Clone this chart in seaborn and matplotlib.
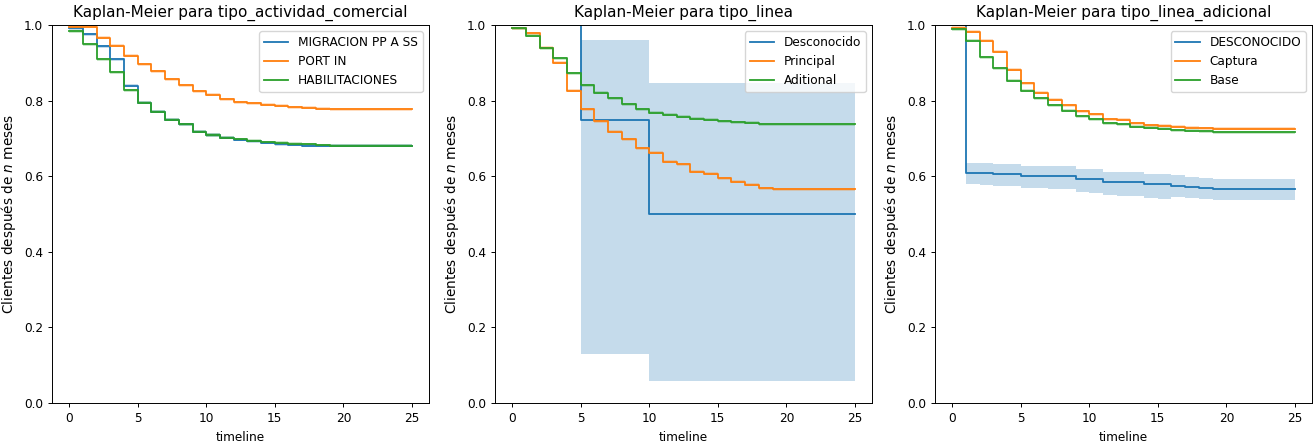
import numpy as np
import pandas as pd
import matplotlib
matplotlib.use("Agg")
import matplotlib.pyplot as plt
import seaborn as sns

# Timeline (meses)
timeline = list(range(26))

# Panel 1: tipo_actividad_comercial
migracion = [0.991, 0.976, 0.944, 0.909, 0.839, 0.794, 0.771, 0.750, 0.737, 0.718, 0.709, 0.702, 0.697,
             0.692, 0.688, 0.685, 0.683, 0.681, 0.680, 0.680, 0.680, 0.680, 0.680, 0.680, 0.680, 0.680]
port_in = [0.996, 0.995, 0.966, 0.945, 0.919, 0.896, 0.877, 0.857, 0.841, 0.825, 0.815, 0.804, 0.796,
           0.793, 0.789, 0.786, 0.783, 0.781, 0.779, 0.777, 0.777, 0.777, 0.777, 0.777, 0.777, 0.777]
habilitaciones = [0.984, 0.949, 0.910, 0.875, 0.828, 0.794, 0.771, 0.750, 0.737, 0.718, 0.709, 0.702, 0.698,
                  0.694, 0.690, 0.688, 0.686, 0.684, 0.682, 0.680, 0.680, 0.680, 0.680, 0.680, 0.680, 0.680]

# Panel 2: tipo_linea
desconocido = [1.0, 1.0, 1.0, 1.0, 1.0, 0.75, 0.75, 0.75, 0.75, 0.75, 0.5, 0.5, 0.5,
               0.5, 0.5, 0.5, 0.5, 0.5, 0.5, 0.5, 0.5, 0.5, 0.5, 0.5, 0.5, 0.5]
desconocido_lo = [1.0, 1.0, 1.0, 1.0, 1.0, 0.130, 0.130, 0.130, 0.130, 0.130, 0.059, 0.059, 0.059,
                  0.059, 0.059, 0.059, 0.059, 0.059, 0.059, 0.059, 0.059, 0.059, 0.059, 0.059, 0.059, 0.059]
desconocido_hi = [1.0, 1.0, 1.0, 1.0, 1.0, 0.960, 0.960, 0.960, 0.960, 0.960, 0.846, 0.846, 0.846,
                  0.846, 0.846, 0.846, 0.846, 0.846, 0.846, 0.846, 0.846, 0.846, 0.846, 0.846, 0.846, 0.846]
principal = [0.991, 0.978, 0.940, 0.900, 0.826, 0.777, 0.746, 0.718, 0.698, 0.674, 0.662, 0.638, 0.632,
             0.612, 0.606, 0.595, 0.585, 0.577, 0.568, 0.565, 0.565, 0.565, 0.565, 0.565, 0.565, 0.565]
aditional = [0.991, 0.971, 0.938, 0.912, 0.872, 0.841, 0.821, 0.806, 0.790, 0.777, 0.768, 0.762, 0.757,
             0.752, 0.749, 0.746, 0.743, 0.741, 0.737, 0.737, 0.737, 0.737, 0.737, 0.737, 0.737, 0.737]

# Panel 3: tipo_linea_adicional
desc_adic = [1.0, 0.609, 0.609, 0.605, 0.605, 0.601, 0.601, 0.601, 0.601, 0.592, 0.592, 0.585, 0.585,
             0.585, 0.580, 0.580, 0.575, 0.572, 0.569, 0.566, 0.566, 0.566, 0.566, 0.566, 0.566, 0.566]
desc_adic_lo = [1.0, 0.579, 0.578, 0.574, 0.573, 0.569, 0.568, 0.567, 0.566, 0.557, 0.556, 0.549, 0.548,
                0.547, 0.542, 0.541, 0.545, 0.542, 0.539, 0.537, 0.537, 0.537, 0.537, 0.537, 0.537, 0.537]
desc_adic_hi = [1.0, 0.636, 0.636, 0.632, 0.632, 0.628, 0.628, 0.628, 0.628, 0.619, 0.619, 0.612, 0.612,
                0.612, 0.607, 0.607, 0.602, 0.599, 0.596, 0.592, 0.592, 0.592, 0.592, 0.592, 0.592, 0.592]
captura = [0.993, 0.982, 0.958, 0.929, 0.881, 0.846, 0.821, 0.802, 0.788, 0.772, 0.764, 0.751, 0.749,
           0.740, 0.735, 0.733, 0.731, 0.728, 0.727, 0.725, 0.725, 0.725, 0.725, 0.725, 0.725, 0.725]
base = [0.989, 0.958, 0.915, 0.885, 0.853, 0.826, 0.806, 0.788, 0.773, 0.759, 0.751, 0.740, 0.738,
        0.731, 0.728, 0.726, 0.722, 0.720, 0.719, 0.716, 0.716, 0.716, 0.716, 0.716, 0.716, 0.716]

# half width of the (very narrow) confidence bands of the big groups
narrow_ci = 0.004

panels = [
    ("tipo_actividad_comercial",
     [("MIGRACION PP A SS", migracion, None, None),
      ("PORT IN", port_in, None, None),
      ("HABILITACIONES", habilitaciones, None, None)]),
    ("tipo_linea",
     [("Desconocido", desconocido, desconocido_lo, desconocido_hi),
      ("Principal", principal, None, None),
      ("Aditional", aditional, None, None)]),
    ("tipo_linea_adicional",
     [("DESCONOCIDO", desc_adic, desc_adic_lo, desc_adic_hi),
      ("Captura", captura, None, None),
      ("Base", base, None, None)]),
]

colors = ["#1f77b4", "#ff7f0e", "#2ca02c"]
scale = 0.875

plt.rcParams['font.family'] = ['DejaVu Sans']
plt.rcParams['axes.linewidth'] = 0.8 * scale
plt.rcParams['xtick.major.width'] = 0.8 * scale
plt.rcParams['ytick.major.width'] = 0.8 * scale
plt.rcParams['xtick.major.size'] = 3.5 * scale
plt.rcParams['ytick.major.size'] = 3.5 * scale

fig = plt.figure(figsize=(13.13, 4.43), dpi=100)
W, H = 1313, 443
lefts = [52, 495, 935]

for left, (name, series) in zip(lefts, panels):
    ax = fig.add_axes([left / W, 40 / H, 377 / W, 378 / H])
    rows = []
    for label, vals, lo, hi in series:
        for t, v in zip(timeline, vals):
            rows.append({"timeline": t, "grupo": label, "surv": v})
    df = pd.DataFrame(rows)
    labels = [s[0] for s in series]

    # confidence bands
    for (label, vals, lo, hi), col in zip(series, colors):
        v = np.array(vals)
        if lo is None:
            lo_arr, hi_arr = v - narrow_ci, np.minimum(v + narrow_ci, 1.0)
        else:
            lo_arr, hi_arr = np.array(lo), np.array(hi)
        ax.fill_between(timeline, lo_arr, hi_arr, step="post", color=col, alpha=0.26, linewidth=0)

    sns.lineplot(data=df, x="timeline", y="surv", hue="grupo", hue_order=labels,
                 palette=colors, estimator=None, drawstyle="steps-post",
                 linewidth=1.5 * scale, ax=ax)
    sns.move_legend(ax, "upper right", title=None, fontsize=10 * scale)

    ax.set_ylim(0, 1)
    ax.set_xlim(-1.25, 26.25)
    ax.set_yticks([0.0, 0.2, 0.4, 0.6, 0.8, 1.0])
    ax.set_title(f"Kaplan-Meier para {name}", fontsize=11)
    ax.set_xlabel("timeline", fontsize=10 * scale)
    ax.set_ylabel("Clientes después de $n$ meses", fontsize=9.8)
    ax.tick_params(labelsize=10 * scale)

fig.savefig("out.png", dpi=100)
